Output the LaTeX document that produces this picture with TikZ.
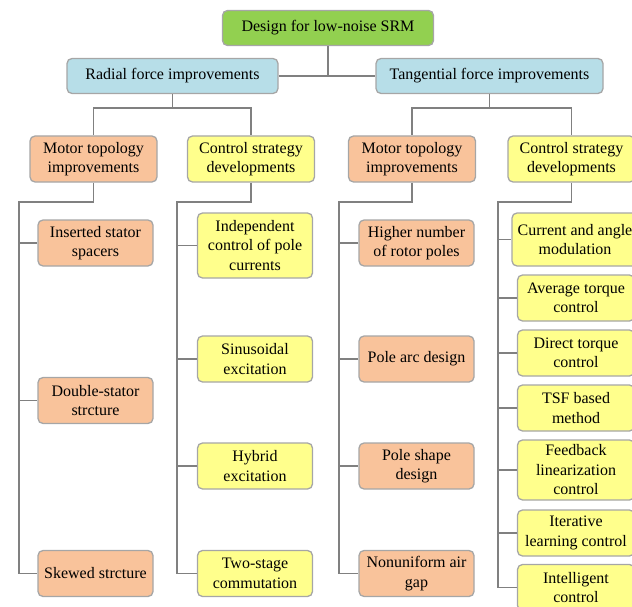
\documentclass[tikz,border=0pt]{standalone}
\usepackage{fontspec}
\setmainfont{Liberation Serif}
\usetikzlibrary{positioning}

\definecolor{rootgreen}{HTML}{92D050}
\definecolor{forceblue}{HTML}{B7DEE8}
\definecolor{topoorange}{HTML}{F9C39B}
\definecolor{ctrlyellow}{HTML}{FFFF8C}
\definecolor{edgegray}{HTML}{A6A6A6}
\definecolor{linkgray}{HTML}{808080}

\tikzset{
  box/.style={draw=edgegray,line width=1.3pt,rounded corners=5pt,align=center,
    inner sep=2pt,font=\fontsize{16}{19.5}\selectfont},
  rootbox/.style={box,fill=rootgreen,minimum width=211pt,minimum height=35pt},
  forcebox/.style={box,fill=forceblue,minimum height=35pt},
  topobox/.style={box,fill=topoorange,minimum width=115pt,minimum height=46pt},
  ctrlbox/.style={box,fill=ctrlyellow,minimum width=115pt,minimum height=46pt},
  link/.style={draw=linkgray,line width=1.6pt}
}

\begin{document}
\begin{tikzpicture}[x=1pt,y=-1pt]
  \useasboundingbox (0,0) rectangle (632,607);

  \node[rootbox] (root) at (328,28) {Design for low-noise SRM};
  \node[forcebox,minimum width=211pt] (rad) at (172.5,76) {Radial force improvements};
  \node[forcebox,minimum width=227pt] (tan) at (489.5,76) {Tangential force improvements};

  % second level
  \node[topobox,minimum width=127pt] (mtl) at (93.5,159) {Motor topology\\improvements};
  \node[ctrlbox,minimum width=127pt] (csl) at (251,159) {Control strategy\\developments};
  \node[topobox,minimum width=127pt] (mtr) at (412,159) {Motor topology\\improvements};
  \node[ctrlbox,minimum width=127pt] (csr) at (571.5,159) {Control strategy\\developments};

  % radial - motor topology
  \node[topobox] (spacer) at (95.5,243) {Inserted stator\\spacers};
  \node[topobox] (dstator) at (95.5,400.5) {Double-stator\\strcture};
  \node[topobox] (skewed) at (95.5,573.5) {Skewed strcture};

  % radial - control strategy
  \node[ctrlbox,minimum height=65pt] (indep) at (255,245.5) {Independent\\control of pole\\currents};
  \node[ctrlbox] (sinus) at (255,359) {Sinusoidal\\excitation};
  \node[ctrlbox] (hybrid) at (255,466) {Hybrid\\excitation};
  \node[ctrlbox] (twostage) at (255,573.5) {Two-stage\\commutation};

  % tangential - motor topology
  \node[topobox] (rotor) at (416.5,243) {Higher number\\of rotor poles};
  \node[topobox] (polearc) at (416.5,359) {Pole arc design};
  \node[topobox] (poleshape) at (416.5,466) {Pole shape\\design};
  \node[topobox] (airgap) at (416.5,573.5) {Nonuniform air\\gap};

  % tangential - control strategy
  \node[ctrlbox,minimum width=126pt,minimum height=53pt] (cam) at (575,239.5) {Current and angle\\modulation};
  \node[ctrlbox,minimum width=117pt] (atc) at (576,298) {Average torque\\control};
  \node[ctrlbox,minimum width=117pt] (dtc) at (576,353) {Direct torque\\control};
  \node[ctrlbox,minimum width=117pt] (tsf) at (576,408) {TSF based\\method};
  \node[ctrlbox,minimum width=117pt,minimum height=60pt] (flc) at (576,470) {Feedback\\linearization\\control};
  \node[ctrlbox,minimum width=117pt] (ilc) at (576,533) {Iterative\\learning control};
  \node[ctrlbox,minimum width=117pt] (intc) at (576,587.5) {Intelligent\\control};

  % trunk
  \draw[link] (root.south) -- (root.south |- rad.east);
  \draw[link] (rad.east) -- (tan.west);

  \coordinate (rsplit) at (172.5,108);
  \coordinate (tsplit) at (489.5,108);
  \draw[link] (rad.south) -- (rsplit) -| (mtl.north);
  \draw[link] (rsplit) -| (csl.north);
  \draw[link] (tan.south) -- (tsplit) -| (mtr.north);
  \draw[link] (tsplit) -| (csr.north);

  % spines
  \coordinate (sp1) at (19,202);
  \coordinate (sp2) at (177,202);
  \coordinate (sp3) at (339,202);
  \coordinate (sp4) at (498,202);
  \draw[link] (mtl.south) |- (sp1) |- (skewed.west);
  \draw[link] (sp1) |- (spacer.west);
  \draw[link] (sp1) |- (dstator.west);

  \draw[link] (csl.south) |- (sp2) |- (twostage.west);
  \draw[link] (sp2) |- (indep.west);
  \draw[link] (sp2) |- (sinus.west);
  \draw[link] (sp2) |- (hybrid.west);

  \draw[link] (mtr.south) |- (sp3) |- (airgap.west);
  \draw[link] (sp3) |- (rotor.west);
  \draw[link] (sp3) |- (polearc.west);
  \draw[link] (sp3) |- (poleshape.west);

  \draw[link] (csr.south) |- (sp4) |- (intc.west);
  \draw[link] (sp4) |- (cam.west);
  \draw[link] (sp4) |- (atc.west);
  \draw[link] (sp4) |- (dtc.west);
  \draw[link] (sp4) |- (tsf.west);
  \draw[link] (sp4) |- (flc.west);
  \draw[link] (sp4) |- (ilc.west);

\end{tikzpicture}
\end{document}
